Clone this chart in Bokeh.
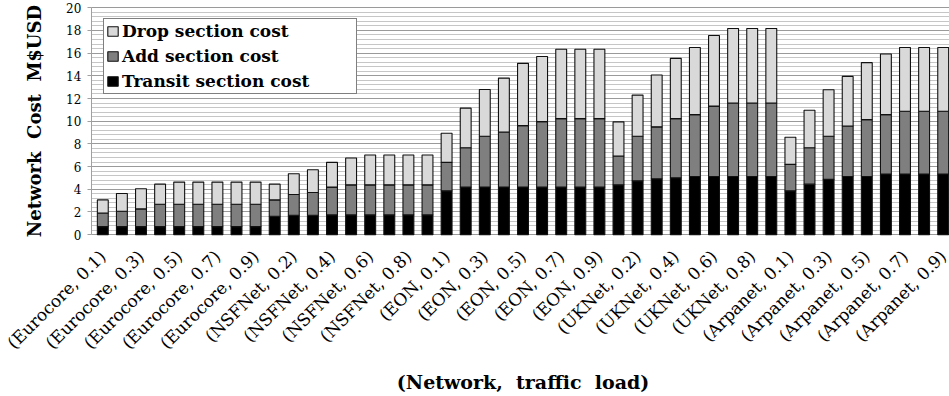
import numpy as np
from bokeh.plotting import figure
from bokeh.models import (ColumnDataSource, SingleIntervalTicker,
                          Legend, LegendItem, Range1d)
from bokeh.core.properties import value
from bokeh.embed import file_html
from bokeh.resources import INLINE

# Networks and offered traffic loads (one bar per pair)
networks = ["Eurocore", "NSFNet", "EON", "UKNet", "Arpanet"]
loads = ["0.1", "0.2", "0.3", "0.4", "0.5", "0.6", "0.7", "0.8", "0.9"]

# Cost of each section, M$USD, in network/load order
transit_cost = [
    0.71, 0.71, 0.71, 0.71, 0.71, 0.71, 0.71, 0.71, 0.71,   # Eurocore
    1.62, 1.71, 1.71, 1.74, 1.74, 1.74, 1.74, 1.74, 1.74,   # NSFNet
    3.86, 4.19, 4.20, 4.20, 4.20, 4.19, 4.19, 4.19, 4.19,   # EON
    4.39, 4.74, 4.92, 5.01, 5.13, 5.13, 5.13, 5.13, 5.13,   # UKNet
    3.86, 4.45, 4.87, 5.13, 5.13, 5.34, 5.34, 5.34, 5.34,   # Arpanet
]
add_cost = [
    1.20, 1.35, 1.56, 1.97, 1.97, 1.97, 1.97, 1.97, 1.97,
    1.44, 1.83, 2.01, 2.45, 2.65, 2.65, 2.65, 2.65, 2.65,
    2.51, 3.47, 4.47, 4.85, 5.41, 5.77, 6.04, 6.04, 6.04,
    2.54, 3.93, 4.58, 5.22, 5.45, 6.20, 6.47, 6.47, 6.47,
    2.33, 3.21, 3.80, 4.45, 5.01, 5.24, 5.54, 5.54, 5.54,
]
drop_cost = [
    1.15, 1.57, 1.77, 1.77, 1.95, 1.95, 1.95, 1.95, 1.95,
    1.39, 1.83, 2.00, 2.18, 2.36, 2.63, 2.63, 2.63, 2.63,
    2.57, 3.49, 4.13, 4.75, 5.49, 5.74, 6.11, 6.11, 6.11,
    3.01, 3.63, 4.57, 5.31, 5.92, 6.22, 6.57, 6.57, 6.57,
    2.39, 3.31, 4.10, 4.37, 5.02, 5.35, 5.62, 5.62, 5.62,
]

section_keys = ["transit", "add", "drop"]
section_names = ["Transit section cost", "Add section cost", "Drop section cost"]
section_colors = ["#000000", "#7f7f7f", "#d9d9d9"]

labels = [f"({n}, {l})" for n in networks for l in loads]
xs = list(range(len(labels)))

src = ColumnDataSource(dict(x=xs, transit=transit_cost, add=add_cost, drop=drop_cost))

serif = "DejaVu Serif"
axis_x = -0.6          # where the value axis crosses the category scale
y_lo, y_hi = 0, 20     # extent of the value axis

# The frame fills the whole canvas; the value axis sits at a fixed spot
# inside it, so the slanted labels and titles are not clipped.
p = figure(width=949, height=396,
           x_range=Range1d(-5.356, 44.33), y_range=Range1d(-14.27, 20.64),
           x_axis_location=None,
           output_backend="svg", toolbar_location=None,
           min_border=0, min_border_left=0, min_border_right=0,
           min_border_top=0, min_border_bottom=0)
p.outline_line_color = None
p.background_fill_color = "white"

# Horizontal grid: major every 2, minor every 0.4, only right of the axis
p.yaxis.ticker = SingleIntervalTicker(interval=2, num_minor_ticks=5)
p.yaxis.bounds = (y_lo, y_hi)
p.yaxis.fixed_location = axis_x
p.ygrid.bounds = (y_lo, y_hi)
p.ygrid.cross_bounds = (axis_x, p.x_range.end)
p.ygrid.grid_line_color = "#9a9a9a"
p.ygrid.grid_line_width = 1
p.ygrid.minor_grid_line_color = "#c6c6c6"
p.ygrid.minor_grid_line_width = 1
p.xgrid.grid_line_color = None

stack = p.vbar_stack(section_keys, x="x", width=0.57, source=src,
                     fill_color=section_colors, line_color="#111111",
                     line_width=1.1)

# Legend: drop on top, transit at the bottom
items = [LegendItem(label=section_names[i], renderers=[stack[i]]) for i in (2, 1, 0)]
legend = Legend(items=items, location=(103, 302))
legend.border_line_color = "black"
legend.border_line_width = 1
legend.background_fill_color = "white"
legend.background_fill_alpha = 1
legend.label_text_font = serif
legend.label_text_font_style = "bold"
legend.label_text_font_size = "17px"
legend.label_text_color = "black"
legend.glyph_width = 13
legend.glyph_height = 12
legend.label_standoff = 3
legend.label_height = 18
legend.label_width = 232
legend.spacing = 5
legend.padding = 2
legend.margin = 0
p.add_layout(legend)

p.yaxis.axis_line_color = "#a0a0a0"
p.yaxis.major_tick_line_color = "#a0a0a0"
p.yaxis.major_tick_out = 4
p.yaxis.major_tick_in = 0
p.yaxis.minor_tick_line_color = None
p.yaxis.major_label_text_font = serif
p.yaxis.major_label_text_font_size = "12px"
p.yaxis.major_label_text_color = "black"
p.yaxis.major_label_standoff = 6
p.yaxis.axis_label = "Network\u00a0\u00a0Cost\u00a0\u00a0M$USD"
p.yaxis.axis_label_text_font = serif
p.yaxis.axis_label_text_font_style = "bold"
p.yaxis.axis_label_text_font_size = "18px"
p.yaxis.axis_label_text_color = "black"
p.yaxis.axis_label_standoff = 18

# Category labels on every other bar, slanted at 45 degrees
tick_x = xs[::2]
tick_src = ColumnDataSource(dict(x=tick_x, y=[-1.65] * len(tick_x),
                                 text=[labels[i] for i in tick_x]))
p.text(x="x", y="y", text="text", source=tick_src,
       angle=np.pi / 4, text_align="right", text_baseline="middle",
       x_offset=0, text_font=value(serif), text_font_size="17px",
       text_color="black")

# Category-axis title, centred under the bars
p.text(x=[(xs[0] + xs[-1]) / 2], y=[-12.95],
       text=["(Network,\u00a0\u00a0traffic\u00a0\u00a0load)"],
       text_align="center", text_baseline="middle",
       text_font=value(serif), text_font_style="bold",
       text_font_size="19px", text_color="black")

open("out.html", "w").write(file_html(p, INLINE))
